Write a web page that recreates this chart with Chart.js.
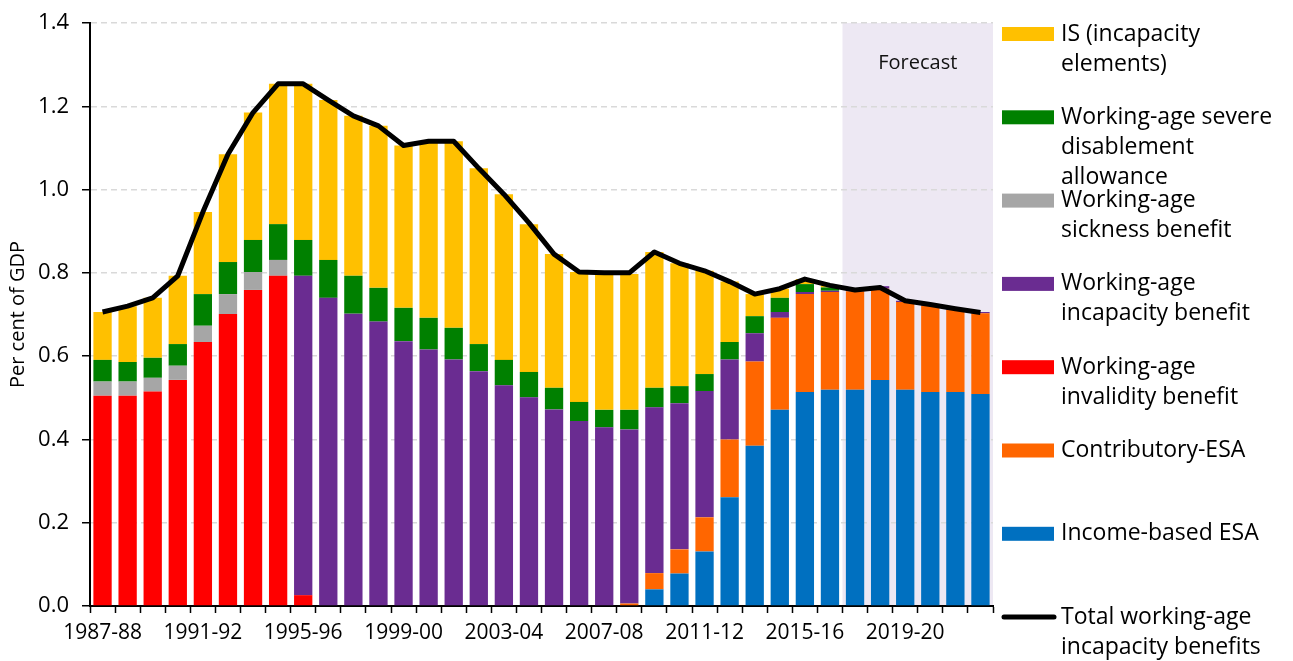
<!DOCTYPE html>
<html>
<head>
<meta charset="utf-8">
<script src="https://cdn.jsdelivr.net/npm/chart.js@4.4.1/dist/chart.umd.min.js"></script>
<style>
  html, body { margin:0; padding:0; background:#fff; }
  #wrap { width:1293px; height:661px; }
</style>
</head>
<body>
<div id="wrap"><canvas id="chart" width="1293" height="661"></canvas></div>
<script>
const years = ['1987-88','1988-89','1989-90','1990-91','1991-92','1992-93','1993-94','1994-95','1995-96','1996-97',
  '1997-98','1998-99','1999-00','2000-01','2001-02','2002-03','2003-04','2004-05','2005-06','2006-07',
  '2007-08','2008-09','2009-10','2010-11','2011-12','2012-13','2013-14','2014-15','2015-16','2016-17',
  '2017-18','2018-19','2019-20','2020-21','2021-22','2022-23'];
const forecastStart = '2017-18';
const yTicks = [0, 0.2, 0.4, 0.6, 0.8, 1.0, 1.2, 1.4];

// per cent of GDP
const incomeESA = [0,0,0,0,0,0,0,0,0,0, 0,0,0,0,0,0,0,0,0,0, 0,0,0.040,0.078,0.131,0.261,0.385,0.471,0.514,0.519,
  0.519,0.543,0.519,0.514,0.514,0.509];
const contribESA = [0,0,0,0,0,0,0,0,0,0, 0,0,0,0,0,0,0,0,0,0, 0,0.006,0.039,0.058,0.082,0.139,0.202,0.221,0.235,0.235,
  0.237,0.219,0.211,0.207,0.197,0.194];
const invalidity = [0.505,0.505,0.515,0.543,0.634,0.701,0.759,0.793,0.026,0, 0,0,0,0,0,0,0,0,0,0,
  0,0,0,0,0,0,0,0,0,0, 0,0,0,0,0,0];
const incapacity = [0,0,0,0,0,0,0,0,0.767,0.740, 0.702,0.683,0.636,0.616,0.592,0.564,0.530,0.501,0.472,0.444,
  0.429,0.418,0.398,0.351,0.303,0.192,0.068,0.014,0.005,0.003, 0.003,0.006,0.003,0.003,0.003,0.003];
const sickness = [0.034,0.034,0.033,0.034,0.039,0.048,0.043,0.038,0,0, 0,0,0,0,0,0,0,0,0,0,
  0,0,0,0,0,0,0,0,0,0, 0,0,0,0,0,0];
const sda = [0.052,0.047,0.048,0.052,0.076,0.077,0.077,0.086,0.086,0.091, 0.091,0.081,0.080,0.076,0.076,0.065,0.061,0.061,0.052,0.046,
  0.042,0.047,0.047,0.041,0.041,0.042,0.041,0.034,0.019,0.008, 0,0,0,0,0,0];
const isIncap = [0.115,0.134,0.144,0.164,0.197,0.259,0.306,0.337,0.375,0.384, 0.384,0.389,0.390,0.424,0.448,0.422,0.398,0.355,0.321,0.312,
  0.329,0.326,0.326,0.295,0.248,0.145,0.053,0.022,0.012,0.005, 0,0,0,0,0,0];
const total = [0.706,0.720,0.740,0.793,0.946,1.085,1.185,1.254,1.254,1.215, 1.177,1.153,1.106,1.116,1.116,1.051,0.989,0.920,0.845,0.802,
  0.800,0.800,0.850,0.823,0.805,0.779,0.749,0.762,0.785,0.770, 0.759,0.765,0.733,0.724,0.714,0.705];

const FONT = "'Open Sans', sans-serif";

// legend entries, top to bottom, wrapped like the original
const legendItems = [
  { lines:['IS (incapacity','elements)'], color:'#FFC000' },
  { lines:['Working-age severe','disablement','allowance'], color:'#008000' },
  { lines:['Working-age','sickness benefit'], color:'#A6A6A6' },
  { lines:['Working-age','incapacity benefit'], color:'#6A2C91' },
  { lines:['Working-age','invalidity benefit'], color:'#FF0000' },
  { lines:['Contributory-ESA'], color:'#FF6600' },
  { lines:['Income-based ESA'], color:'#0070C0' },
  { lines:['Total working-age','incapacity benefits'], color:'#000', line:true }
];

const forecastShade = {
  id:'forecastShade',
  beforeDraw(chart){
    const { ctx, chartArea, scales:{x} } = chart;
    const i = years.indexOf(forecastStart);
    const left = (x.getPixelForValue(i - 1) + x.getPixelForValue(i)) / 2;
    ctx.save();
    ctx.fillStyle = '#EDE8F3';
    ctx.fillRect(left, chartArea.top, chartArea.right - left, chartArea.bottom - chartArea.top);
    ctx.fillStyle = '#111';
    ctx.font = '20px ' + FONT;
    ctx.textAlign = 'center';
    ctx.textBaseline = 'middle';
    ctx.fillText('Forecast', (left + chartArea.right) / 2, chartArea.top + 40);
    ctx.restore();
  }
};

const sideLegend = {
  id:'sideLegend',
  afterDraw(chart){
    const ctx = chart.ctx;
    ctx.save();
    ctx.font = '23px ' + FONT;
    ctx.textBaseline = 'middle';
    ctx.fillStyle = '#000';
    legendItems.forEach((it, i) => {
      const y = 34 + i * 83.3;
      if (it.line) {
        ctx.strokeStyle = it.color;
        ctx.lineWidth = 5;
        ctx.lineCap = 'round';
        ctx.beginPath(); ctx.moveTo(1004, y); ctx.lineTo(1054, y); ctx.stroke();
      } else {
        ctx.fillStyle = it.color;
        ctx.fillRect(1002, y - 7, 52, 14);
      }
      ctx.fillStyle = '#000';
      it.lines.forEach((t, j) => ctx.fillText(t, 1061, y + j * 30));
    });
    ctx.restore();
  }
};

function barSet(label, data, color){
  return { type:'bar', label, data, backgroundColor:color, borderWidth:0, stack:'s', order:1 };
}

new Chart(document.getElementById('chart'), {
  data: {
    labels: years,
    datasets: [
      { type:'line', label:'Total working-age incapacity benefits', data:total, borderColor:'#000',
        borderWidth:5, pointRadius:0, tension:0, stack:'total', order:0, borderJoinStyle:'round' },
      barSet('Income-based ESA', incomeESA, '#0070C0'),
      barSet('Contributory-ESA', contribESA, '#FF6600'),
      barSet('Working-age invalidity benefit', invalidity, '#FF0000'),
      barSet('Working-age incapacity benefit', incapacity, '#6A2C91'),
      barSet('Working-age sickness benefit', sickness, '#A6A6A6'),
      barSet('Working-age severe disablement allowance', sda, '#008000'),
      barSet('IS (incapacity elements)', isIncap, '#FFC000')
    ]
  },
  options: {
    responsive:false,
    animation:false,
    datasets: { bar: { categoryPercentage:1, barPercentage:0.73 } },
    layout: { padding: { left:0, right:300, top:23, bottom:0 } },
    plugins: { legend:{ display:false }, tooltip:{ enabled:false } },
    scales: {
      x: {
        stacked:true,
        offset:true,
        afterFit(s){ s.height = 55; s.paddingLeft = 0; s.paddingRight = 0; },
        grid: { offset:true, drawOnChartArea:false, drawTicks:true, tickLength:7, tickColor:'#000', tickWidth:1.5 },
        border: { display:true, color:'#000', width:2 },
        ticks: {
          autoSkip:false, maxRotation:0, padding:7, color:'#000',
          font:{ family:FONT, size:21 },
          callback:(v, i) => i % 4 === 0 ? years[i] : ''
        }
      },
      y: {
        stacked:true,
        min:0, max:1.4,
        afterFit(s){ s.width = 90; s.paddingTop = 0; s.paddingBottom = 0; },
        afterBuildTicks(s){ s.ticks = yTicks.map(v => ({ value:v })); },
        grid: {
          color: c => c.tick && c.tick.value === 0 ? 'rgba(0,0,0,0)' : '#D9D9D9',
          lineWidth:1.5, tickLength:8, tickColor:'#000', tickWidth:1.5
        },
        border: { display:true, color:'#000', width:2, dash:[6,4] },
        ticks: {
          padding:13, color:'#000',
          font:{ family:FONT, size:22 },
          callback: v => Number(v).toFixed(1)
        },
        title: {
          display:true, text:'Per cent of GDP', color:'#000',
          font:{ family:FONT, size:20 }, padding:{ top:6, bottom:0 }
        }
      }
    }
  },
  plugins:[forecastShade, sideLegend]
});
</script>
</body>
</html>
